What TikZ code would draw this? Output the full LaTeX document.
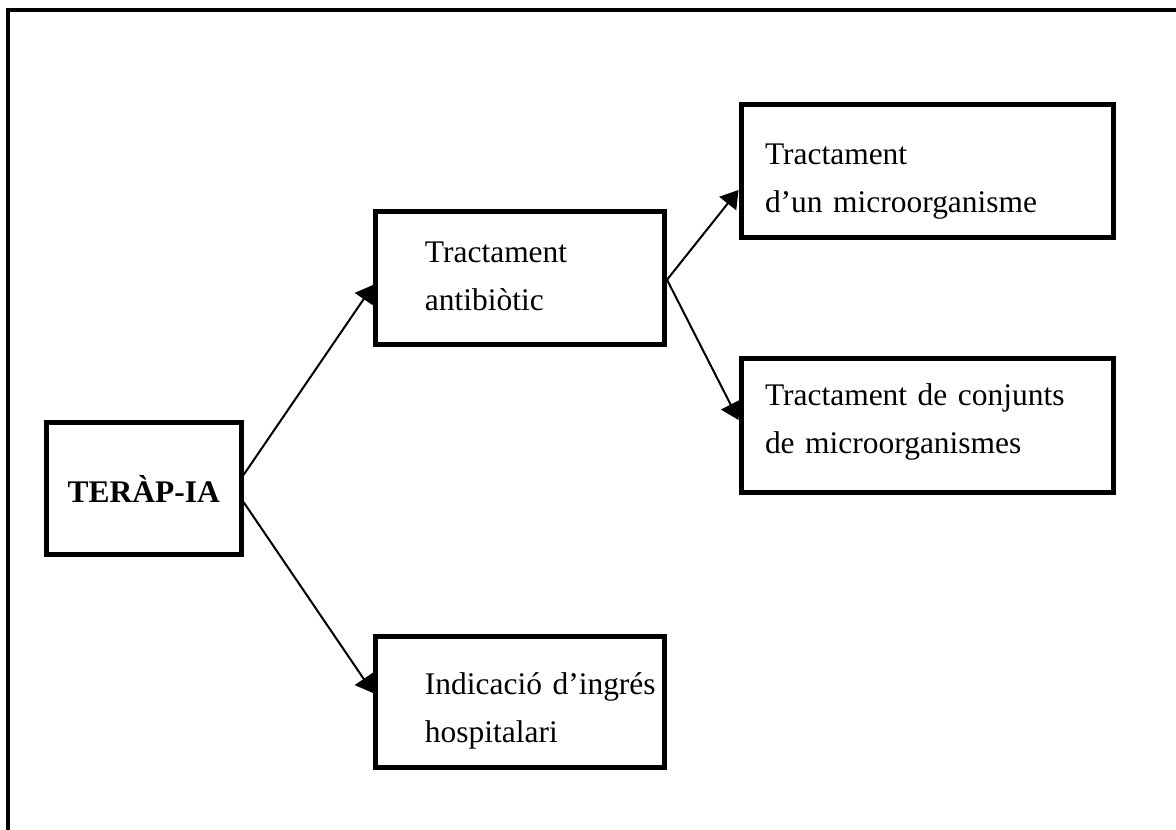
\documentclass[tikz,border=0pt]{standalone}
\usepackage{fontspec}
\setmainfont{Liberation Serif}
\usetikzlibrary{arrows.meta,calc}
\begin{document}
\begin{tikzpicture}[x=0.75pt,y=-0.75pt,
  box/.style={draw,line width=3.75pt,fill=white,rectangle,
    font=\fontsize{23.6pt}{36pt}\selectfont},
  rootbox/.style={box,align=center,minimum width=145.9pt,minimum height=99pt},
  midbox/.style={box,align=left,text width=142.9pt,inner xsep=36.75pt,
    inner ysep=0pt,minimum width=216.4pt,minimum height=#1},
  sidebox/.style={box,align=left,text width=243pt,inner xsep=18pt,
    inner ysep=0pt,minimum width=279pt,minimum height=#1},
  lines/.style={text height=#1,text depth=36pt},
  conn/.style={line width=1.5pt,-{Triangle[length=13pt,width=16pt]}}]
\useasboundingbox (0,0) rectangle (1176,830);
% page frame (runs off the right and bottom edges)
\draw[line width=3pt] (8,10) rectangle (1200,860);

\coordinate (rootc) at (143.75,488.5);
\coordinate (antc) at (520.25,277.75);
\coordinate (onec) at (927,171);
\coordinate (setc) at (927,425.5);
\coordinate (hospc) at (520.25,702.25);

\node[rootbox] (root) at (rootc) {\textbf{TERÀP-IA}};
\node[midbox=100.1pt,lines=12.4pt] (ant) at (antc) {Tractament\\antibiòtic};
\node[sidebox=100.1pt,lines=27pt] (one) at (onec) {Tractament\\d’un microorganisme};
\node[sidebox=100.5pt,lines=5.6pt] (set) at (setc) {Tractament de conjunts\\de microorganismes};
\node[midbox=97.9pt,lines=25.1pt] (hosp) at (hospc) {\mbox{Indicació d’ingrés}\\hospitalari};

\draw[conn] ($(root.east)+(0,-13.5)$) -- ($(ant.west)+(0,7)$);
\draw[conn] ($(root.east)+(0,13.5)$) -- ($(hosp.west)+(0,-9)$);
\draw[conn] ($(ant.east)+(0,2)$) -- ($(one.west)+(0,19)$);
\draw[conn] ($(ant.east)+(0,2)$) -- ($(set.west)+(0,-5.5)$);
\end{tikzpicture}
\end{document}
